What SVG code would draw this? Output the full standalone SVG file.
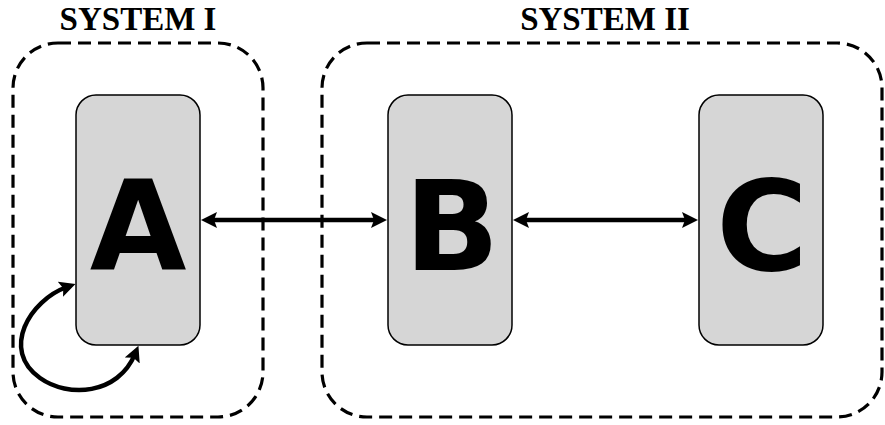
<svg xmlns="http://www.w3.org/2000/svg" width="885" height="425" viewBox="0 0 885 425">
<style>
.sys{fill:none;stroke:#000;stroke-width:3.2;stroke-dasharray:13 7}
.node{fill:#d6d6d6;stroke:#000;stroke-width:1.5}
.lbl{font-family:"DejaVu Sans",sans-serif;font-weight:bold;font-size:125px;text-anchor:middle;fill:#000}
.title{font-family:"Liberation Serif",serif;font-weight:bold;font-size:33px;text-anchor:middle;fill:#000}
.conn{fill:none;stroke:#000;stroke-width:4.5;marker-start:url(#ah);marker-end:url(#ah)}
</style>
<defs>
<marker id="ah" viewBox="0 0 16 16" refX="7" refY="8" markerWidth="16" markerHeight="16" markerUnits="userSpaceOnUse" orient="auto-start-reverse">
<path d="M0,0 L16,8 L0,16 L3,8 z" fill="#000"/>
</marker>
</defs>
<g id="system1">
<rect class="sys" x="13" y="43" width="250" height="374" rx="45"/>
<text class="title" x="138" y="30">SYSTEM I</text>
</g>
<g id="system2">
<rect class="sys" x="322" y="43" width="560" height="374" rx="45"/>
<text class="title" x="605" y="30">SYSTEM II</text>
</g>
<g id="nodeA">
<rect class="node" x="76" y="95" width="124" height="250" rx="20"/>
<text class="lbl" x="138" y="270">A</text>
</g>
<g id="nodeB">
<rect class="node" x="388" y="95" width="124" height="250" rx="20"/>
<text class="lbl" x="452" y="270">B</text>
</g>
<g id="nodeC">
<rect class="node" x="699" y="95" width="124" height="250" rx="20"/>
<text class="lbl" x="762" y="270">C</text>
</g>
<g id="connectors">
<path class="conn" d="M210,220 H378"/>
<path class="conn" d="M522,220 H689"/>
<path class="conn" d="M67,287 C30,300 0,350 40,378 C68,398 118,395 135,354"/>
</g>
</svg>
